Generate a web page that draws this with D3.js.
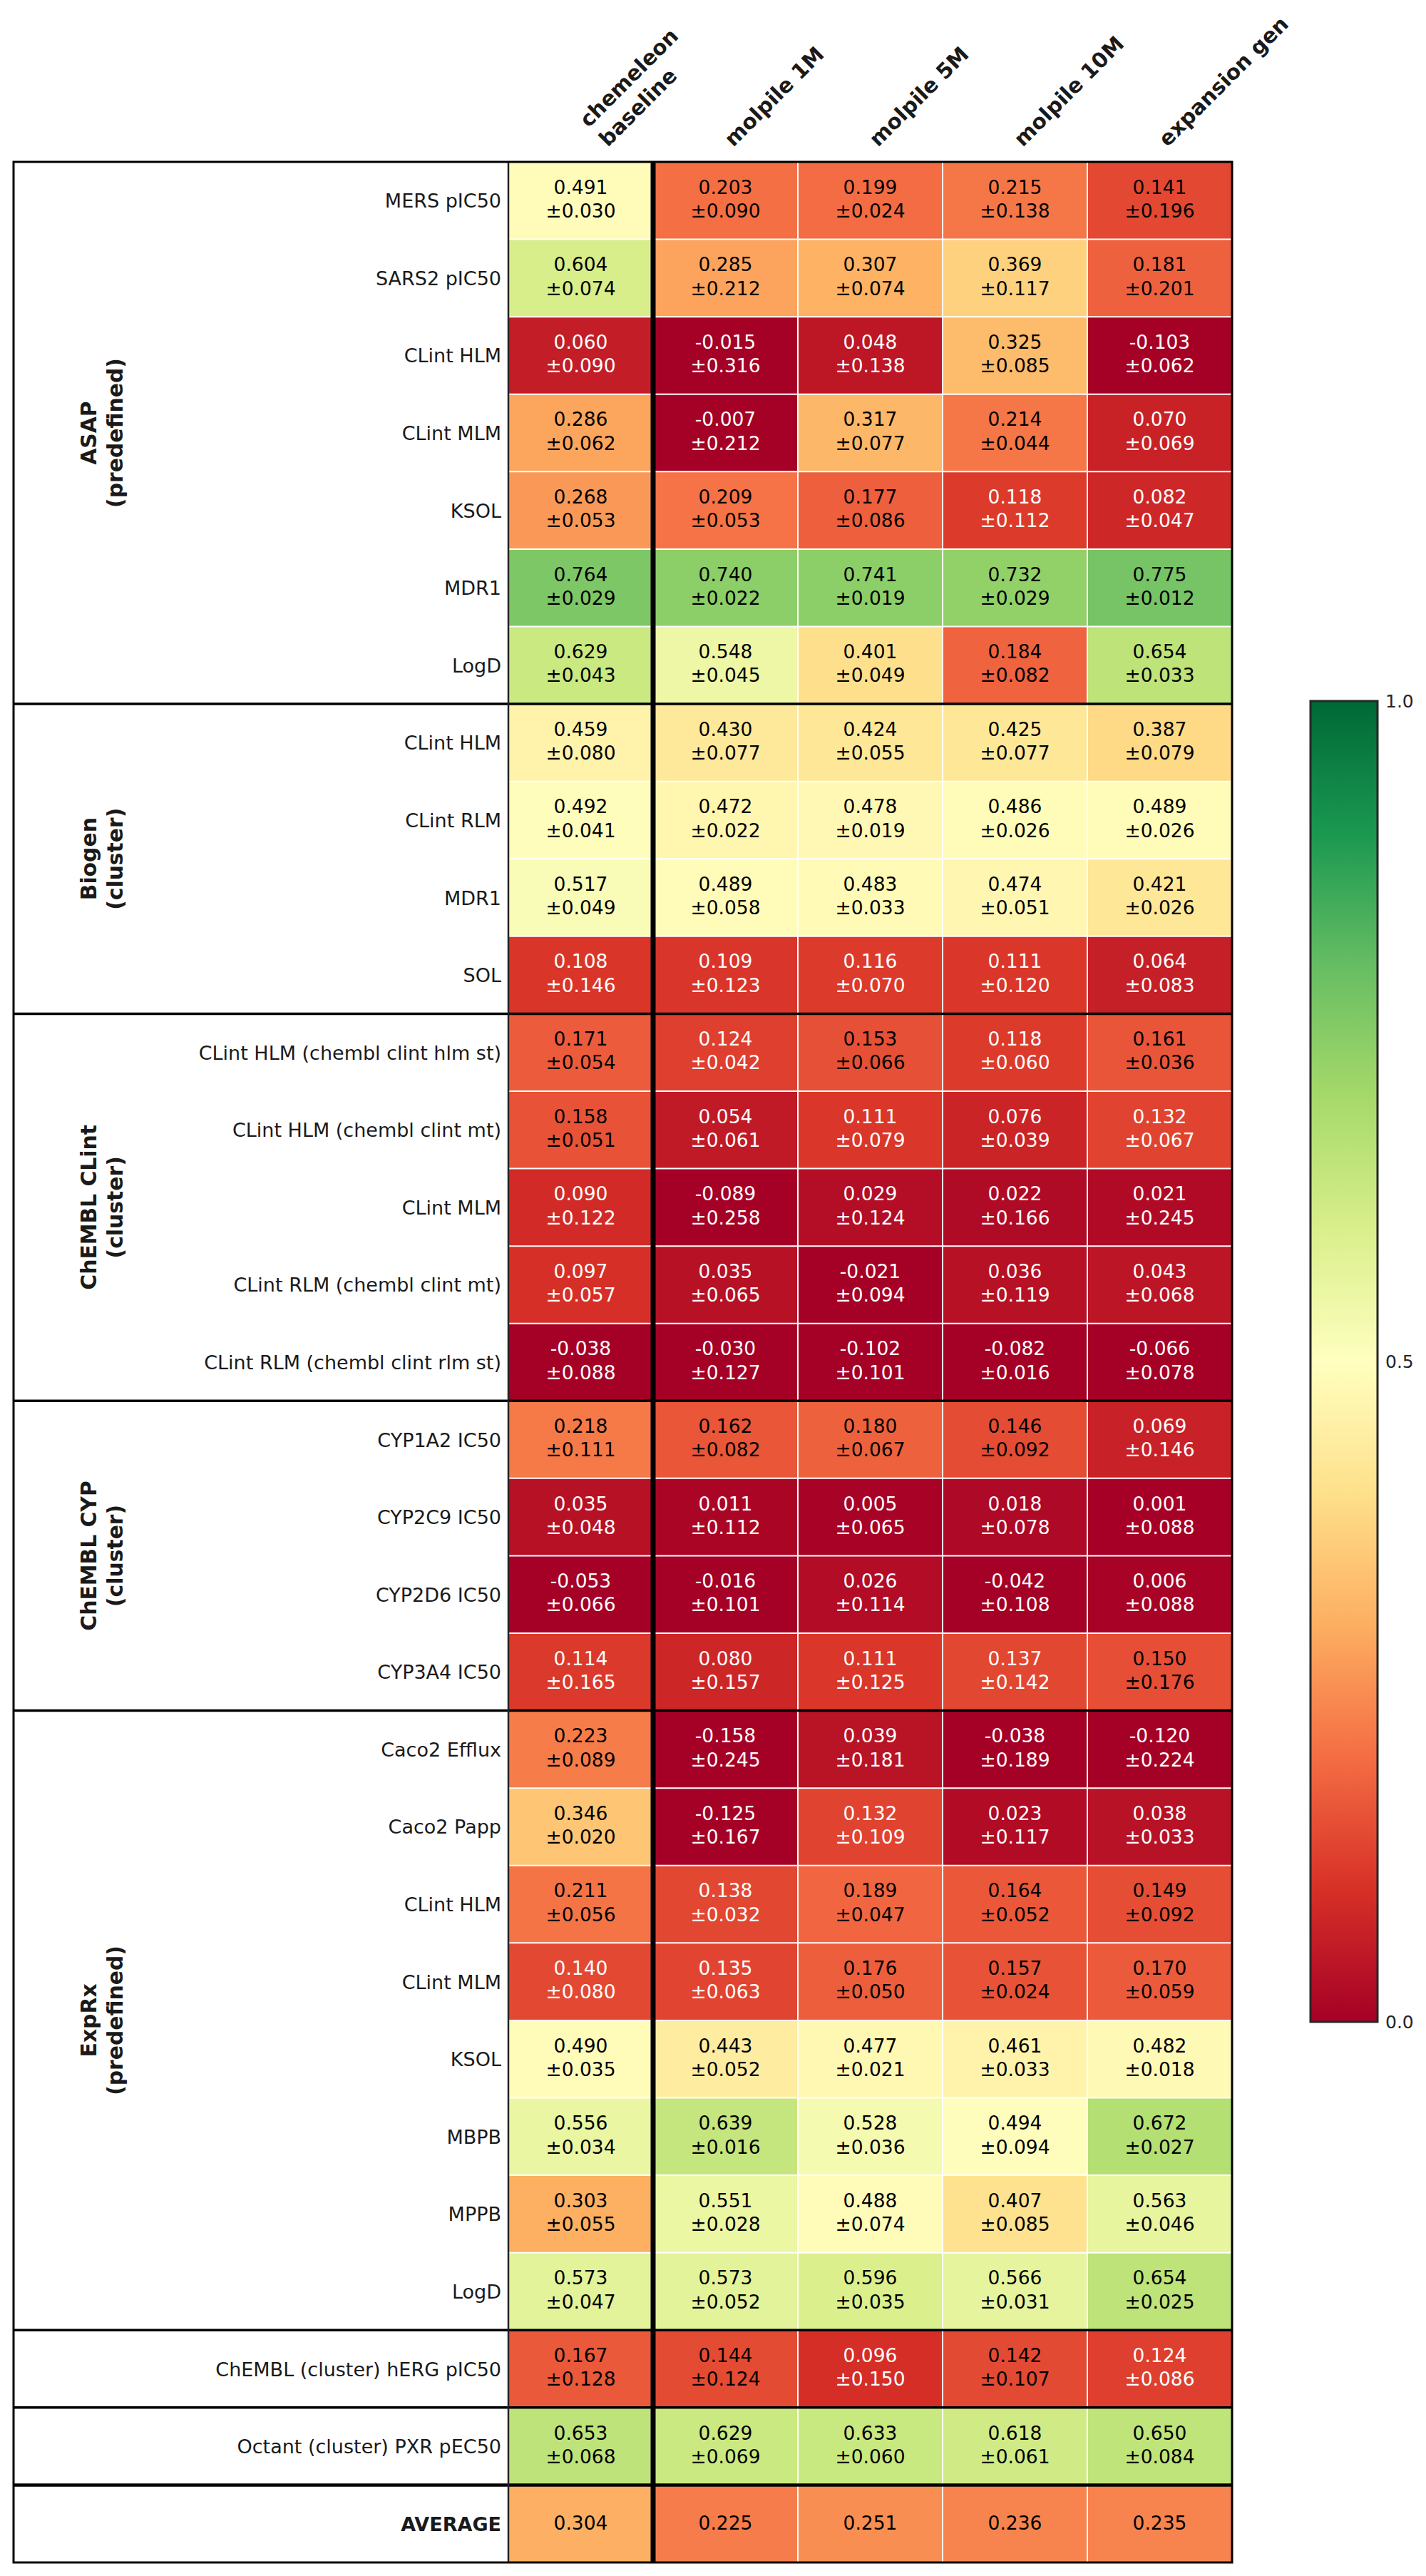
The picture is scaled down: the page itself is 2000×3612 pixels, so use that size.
<!DOCTYPE html>
<html>
<head>
<meta charset="utf-8">
<script src="https://cdn.jsdelivr.net/npm/d3@7"></script>
<style>
body { margin: 0; background: #fff; }
text { font-family: "DejaVu Sans", sans-serif; }
</style>
</head>
<body>
<script>
var columns = ["chemeleon\nbaseline", "molpile 1M", "molpile 5M", "molpile 10M", "expansion gen"];

var groupNames = ["ASAP\n(predefined)", "Biogen\n(cluster)", "ChEMBL CLint\n(cluster)", "ChEMBL CYP\n(cluster)", "ExpRx\n(predefined)", "", "", ""];
var groupSizes = [7, 4, 5, 4, 8, 1, 1, 1];

var rowLabels = [
    "MERS pIC50", "SARS2 pIC50", "CLint HLM", "CLint MLM", "KSOL", "MDR1", "LogD",
    "CLint HLM", "CLint RLM", "MDR1", "SOL",
    "CLint HLM (chembl clint hlm st)", "CLint HLM (chembl clint mt)", "CLint MLM", "CLint RLM (chembl clint mt)", "CLint RLM (chembl clint rlm st)",
    "CYP1A2 IC50", "CYP2C9 IC50", "CYP2D6 IC50", "CYP3A4 IC50",
    "Caco2 Efflux", "Caco2 Papp", "CLint HLM", "CLint MLM", "KSOL", "MBPB", "MPPB", "LogD",
    "ChEMBL (cluster) hERG pIC50",
    "Octant (cluster) PXR pEC50",
    "AVERAGE"
];

var means = [
    [0.491, 0.203, 0.199, 0.215, 0.141],
    [0.604, 0.285, 0.307, 0.369, 0.181],
    [0.060, -0.015, 0.048, 0.325, -0.103],
    [0.286, -0.007, 0.317, 0.214, 0.070],
    [0.268, 0.209, 0.177, 0.118, 0.082],
    [0.764, 0.740, 0.741, 0.732, 0.775],
    [0.629, 0.548, 0.401, 0.184, 0.654],
    [0.459, 0.430, 0.424, 0.425, 0.387],
    [0.492, 0.472, 0.478, 0.486, 0.489],
    [0.517, 0.489, 0.483, 0.474, 0.421],
    [0.108, 0.109, 0.116, 0.111, 0.064],
    [0.171, 0.124, 0.153, 0.118, 0.161],
    [0.158, 0.054, 0.111, 0.076, 0.132],
    [0.090, -0.089, 0.029, 0.022, 0.021],
    [0.097, 0.035, -0.021, 0.036, 0.043],
    [-0.038, -0.030, -0.102, -0.082, -0.066],
    [0.218, 0.162, 0.180, 0.146, 0.069],
    [0.035, 0.011, 0.005, 0.018, 0.001],
    [-0.053, -0.016, 0.026, -0.042, 0.006],
    [0.114, 0.080, 0.111, 0.137, 0.150],
    [0.223, -0.158, 0.039, -0.038, -0.120],
    [0.346, -0.125, 0.132, 0.023, 0.038],
    [0.211, 0.138, 0.189, 0.164, 0.149],
    [0.140, 0.135, 0.176, 0.157, 0.170],
    [0.490, 0.443, 0.477, 0.461, 0.482],
    [0.556, 0.639, 0.528, 0.494, 0.672],
    [0.303, 0.551, 0.488, 0.407, 0.563],
    [0.573, 0.573, 0.596, 0.566, 0.654],
    [0.167, 0.144, 0.096, 0.142, 0.124],
    [0.653, 0.629, 0.633, 0.618, 0.650],
    [0.304, 0.225, 0.251, 0.236, 0.235]
];

var stds = [
    [0.030, 0.090, 0.024, 0.138, 0.196],
    [0.074, 0.212, 0.074, 0.117, 0.201],
    [0.090, 0.316, 0.138, 0.085, 0.062],
    [0.062, 0.212, 0.077, 0.044, 0.069],
    [0.053, 0.053, 0.086, 0.112, 0.047],
    [0.029, 0.022, 0.019, 0.029, 0.012],
    [0.043, 0.045, 0.049, 0.082, 0.033],
    [0.080, 0.077, 0.055, 0.077, 0.079],
    [0.041, 0.022, 0.019, 0.026, 0.026],
    [0.049, 0.058, 0.033, 0.051, 0.026],
    [0.146, 0.123, 0.070, 0.120, 0.083],
    [0.054, 0.042, 0.066, 0.060, 0.036],
    [0.051, 0.061, 0.079, 0.039, 0.067],
    [0.122, 0.258, 0.124, 0.166, 0.245],
    [0.057, 0.065, 0.094, 0.119, 0.068],
    [0.088, 0.127, 0.101, 0.016, 0.078],
    [0.111, 0.082, 0.067, 0.092, 0.146],
    [0.048, 0.112, 0.065, 0.078, 0.088],
    [0.066, 0.101, 0.114, 0.108, 0.088],
    [0.165, 0.157, 0.125, 0.142, 0.176],
    [0.089, 0.245, 0.181, 0.189, 0.224],
    [0.020, 0.167, 0.109, 0.117, 0.033],
    [0.056, 0.032, 0.047, 0.052, 0.092],
    [0.080, 0.063, 0.050, 0.024, 0.059],
    [0.035, 0.052, 0.021, 0.033, 0.018],
    [0.034, 0.016, 0.036, 0.094, 0.027],
    [0.055, 0.028, 0.074, 0.085, 0.046],
    [0.047, 0.052, 0.035, 0.031, 0.025],
    [0.128, 0.124, 0.150, 0.107, 0.086],
    [0.068, 0.069, 0.060, 0.061, 0.084],
    null
];

var colorTicks = [0, 0.5, 1];

// RdYlGn, linear between the 11 brewer colours like matplotlib
var rdylgn = ["#a50026", "#d73027", "#f46d43", "#fdae61", "#fee08b", "#ffffbf",
              "#d9ef8b", "#a6d96a", "#66bd63", "#1a9850", "#006837"];

var W = 2000, H = 3612;
var tblLeft = 19, tblLabelRight = 713, tblRight = 1728, tblTop = 227, tblBottom = 3593;

var svg = d3.select("body").append("svg")
    .attr("width", W)
    .attr("height", H);

svg.append("rect").attr("width", W).attr("height", H).attr("fill", "#fff");

var x = d3.scaleBand()
    .domain(d3.range(columns.length))
    .range([tblLabelRight, tblRight]);

var y = d3.scaleBand()
    .domain(d3.range(rowLabels.length))
    .range([tblTop, tblBottom]);

var color = d3.scaleLinear()
    .domain(d3.range(11).map(function(i) { return i / 10; }))
    .range(rdylgn)
    .interpolate(d3.interpolateRgb)
    .clamp(true);

var cells = [];
means.forEach(function(row, i) {
    row.forEach(function(v, j) {
        cells.push({r: i, c: j, v: v, s: stds[i] ? stds[i][j] : null});
    });
});

svg.selectAll(".cell")
    .data(cells)
    .enter().append("rect")
    .attr("class", "cell")
    .attr("x", function(d) { return x(d.c); })
    .attr("y", function(d) { return y(d.r); })
    .attr("width", x.bandwidth())
    .attr("height", y.bandwidth())
    .attr("fill", function(d) { return color(d.v); });

// white grid inside the data area
svg.selectAll(".vgrid")
    .data(d3.range(2, columns.length))
    .enter().append("line")
    .attr("x1", function(d) { return x(d); })
    .attr("x2", function(d) { return x(d); })
    .attr("y1", tblTop).attr("y2", tblBottom)
    .attr("stroke", "#fff").attr("stroke-width", 2);

svg.selectAll(".hgrid")
    .data(d3.range(1, rowLabels.length))
    .enter().append("line")
    .attr("x1", tblLabelRight).attr("x2", tblRight)
    .attr("y1", function(d) { return y(d); })
    .attr("y2", function(d) { return y(d); })
    .attr("stroke", "#fff").attr("stroke-width", 2);

var ann = svg.selectAll(".ann")
    .data(cells)
    .enter().append("text")
    .attr("class", "ann")
    .attr("text-anchor", "middle")
    .style("font-size", "26.5px")
    .attr("fill", function(d) { return d.v < 0.1405 ? "#fff" : "#000"; });

ann.each(function(d) {
    var t = d3.select(this);
    var cx = x(d.c) + x.bandwidth() / 2,
        cy = y(d.r) + y.bandwidth() / 2;
    if (d.s === null) {
        t.append("tspan").attr("x", cx).attr("y", cy + 8).text(d.v.toFixed(3));
    } else {
        t.append("tspan").attr("x", cx).attr("y", cy - 9.6).text(d.v.toFixed(3));
        t.append("tspan").attr("x", cx).attr("y", cy + 23.7).text("\u00b1" + d.s.toFixed(3));
    }
});

// row labels
svg.selectAll(".rowlabel")
    .data(rowLabels)
    .enter().append("text")
    .attr("class", "rowlabel")
    .attr("x", 703)
    .attr("y", function(d, i) { return y(i) + y.bandwidth() / 2 + 10; })
    .attr("text-anchor", "end")
    .style("font-size", "27px")
    .style("font-weight", function(d) { return d === "AVERAGE" ? "bold" : "normal"; })
    .attr("fill", "#1a1a1a")
    .text(function(d) { return d; });

// groups
var starts = [0];
groupSizes.forEach(function(n, i) { starts.push(starts[i] + n); });

svg.selectAll(".grouplabel")
    .data(groupNames.map(function(name, i) { return {name: name, a: starts[i], b: starts[i + 1]}; })
        .filter(function(d) { return d.name !== ""; }))
    .enter().append("text")
    .attr("class", "grouplabel")
    .attr("transform", function(d) {
        var cy = (y(d.a) + y(d.b - 1) + y.bandwidth()) / 2;
        return "translate(150," + cy + ") rotate(-90)";
    })
    .attr("text-anchor", "middle")
    .style("font-size", "29.8px")
    .style("font-weight", "bold")
    .attr("fill", "#1a1a1a")
    .each(function(d) {
        var lines = d.name.split("\n");
        d3.select(this).selectAll("tspan")
            .data(lines)
            .enter().append("tspan")
            .attr("x", 0)
            .attr("y", function(l, k) { return k === 0 ? -15 : 22; })
            .text(function(l) { return l; });
    });

svg.selectAll(".groupline")
    .data(starts.slice(1, -1))
    .enter().append("line")
    .attr("x1", tblLeft).attr("x2", tblRight)
    .attr("y1", function(d) { return y(d); })
    .attr("y2", function(d) { return y(d); })
    .attr("stroke", "#000")
    .attr("stroke-width", function(d) { return d === rowLabels.length - 1 ? 4.5 : 3.5; });

// frame lines
svg.append("line")
    .attr("x1", tblLabelRight).attr("x2", tblLabelRight)
    .attr("y1", tblTop).attr("y2", tblBottom)
    .attr("stroke", "#222").attr("stroke-width", 2.5);

svg.append("line")
    .attr("x1", x(1)).attr("x2", x(1))
    .attr("y1", tblTop).attr("y2", tblBottom)
    .attr("stroke", "#000").attr("stroke-width", 7);

svg.append("rect")
    .attr("x", tblLeft).attr("y", tblTop)
    .attr("width", tblRight - tblLeft).attr("height", tblBottom - tblTop)
    .attr("fill", "none")
    .attr("stroke", "#000").attr("stroke-width", 3);

// column headers, rotated 45deg
svg.selectAll(".colhead")
    .data(columns)
    .enter().append("g")
    .attr("class", "colhead")
    .each(function(d, j) {
        var lines = d.split("\n"),
            n = lines.length,
            cx = x(j) + x.bandwidth() / 2;
        d3.select(this).selectAll("text")
            .data(lines)
            .enter().append("text")
            .attr("transform", function(l, k) {
                var px = cx + 11 + k * 27,
                    py = 207 - (n - 1 - k) * 27;
                return "translate(" + px + "," + py + ") rotate(-45)";
            })
            .style("font-size", "29.5px")
            .style("font-weight", "bold")
            .attr("fill", "#1a1a1a")
            .text(function(l) { return l; });
    });

// colorbar
var cbX = 1838, cbW = 94, cbTop = 983, cbBottom = 2835;

var grad = svg.append("defs").append("linearGradient")
    .attr("id", "cbgrad")
    .attr("x1", 0).attr("y1", 1).attr("x2", 0).attr("y2", 0);

grad.selectAll("stop")
    .data(rdylgn)
    .enter().append("stop")
    .attr("offset", function(d, i) { return i / 10; })
    .attr("stop-color", function(d) { return d; });

svg.append("rect")
    .attr("x", cbX).attr("y", cbTop)
    .attr("width", cbW).attr("height", cbBottom - cbTop)
    .attr("fill", "url(#cbgrad)")
    .attr("stroke", "#262626").attr("stroke-width", 3);

var cbScale = d3.scaleLinear().domain([0, 1]).range([cbBottom, cbTop]);

var cbAxis = svg.append("g")
    .attr("transform", "translate(" + (cbX + cbW) + ",0)")
    .call(d3.axisRight(cbScale).tickValues(colorTicks).tickFormat(d3.format(".1f")).tickSize(0).tickPadding(11));

cbAxis.select(".domain").remove();
cbAxis.selectAll("text")
    .style("font-family", "DejaVu Sans, sans-serif")
    .style("font-size", "25px")
    .attr("fill", "#262626");
</script>
</body>
</html>
